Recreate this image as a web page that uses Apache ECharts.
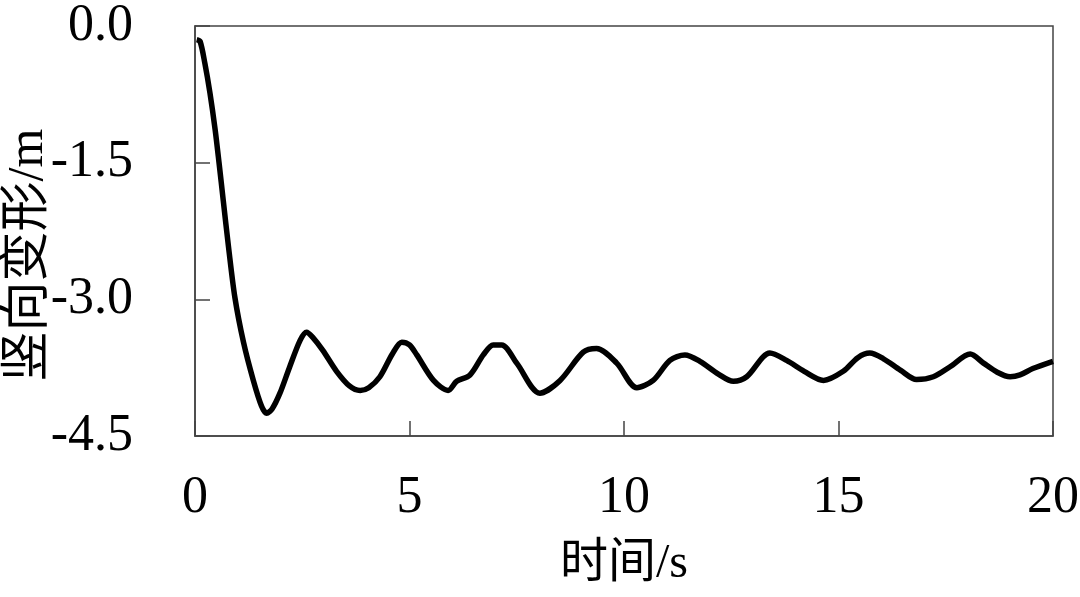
<!DOCTYPE html>
<html>
<head>
<meta charset="utf-8">
<script src="https://cdn.jsdelivr.net/npm/echarts@6/dist/echarts.min.js"></script>
<style>
html,body{margin:0;padding:0;background:#fff;}
#main{width:1080px;height:597px;}
</style>
</head>
<body>
<div id="main"></div>
<script>
const time = [0.04,0.12,0.23,0.35,0.47,0.56,0.66,0.78,0.93,1.13,1.36,1.55,1.67,1.8,1.98,2.2,2.45,2.6,2.75,2.98,3.3,3.6,3.85,4.05,4.31,4.6,4.82,5.0,5.17,5.56,5.9,6.1,6.41,6.72,6.95,7.15,7.5,8.04,8.51,9.05,9.36,9.83,10.3,10.68,11.07,11.42,11.77,12.2,12.55,12.86,13.4,13.79,14.2,14.65,15.11,15.45,15.73,16.04,16.45,16.82,17.21,17.6,18.07,18.38,18.7,19.0,19.23,19.53,20.0];
const deform = [-0.15,-0.17,-0.41,-0.74,-1.14,-1.5,-1.92,-2.42,-2.98,-3.47,-3.89,-4.17,-4.25,-4.2,-4.03,-3.75,-3.45,-3.36,-3.42,-3.56,-3.79,-3.95,-4.0,-3.97,-3.85,-3.6,-3.47,-3.5,-3.61,-3.89,-4.0,-3.9,-3.83,-3.61,-3.5,-3.5,-3.7,-4.03,-3.89,-3.58,-3.54,-3.7,-3.97,-3.89,-3.67,-3.61,-3.68,-3.82,-3.9,-3.85,-3.59,-3.67,-3.79,-3.89,-3.79,-3.64,-3.59,-3.65,-3.78,-3.88,-3.85,-3.74,-3.6,-3.7,-3.8,-3.85,-3.83,-3.76,-3.68];
const xTicks = [0,5,10,15,20];
const yTicks = ['0.0','-1.5','-3.0','-4.5'];
const xName = '时间/s';
const yName = '竖向变形/m';

const chart = echarts.init(document.getElementById('main'));
const serif = '"Liberation Serif", "Noto Sans CJK SC", serif';
chart.setOption({
  animation: false,
  backgroundColor: '#fff',
  grid: {left: 195, right: 27, top: 26, bottom: 161, show: true, borderColor: '#444', borderWidth: 1.5,
    containLabel: false, outerBoundsMode: 'none'},
  xAxis: {
    type: 'value', min: 0, max: 20, interval: 5,
    name: xName, nameLocation: 'middle', nameGap: 104, nameMoveOverlap: false,
    nameTextStyle: {fontFamily: serif, fontSize: 48, color: '#000'},
    axisLine: {show: true, onZero: false, lineStyle: {color: '#444', width: 1.5}},
    axisTick: {show: true, inside: true, length: 15, lineStyle: {color: '#444', width: 1.5}},
    axisLabel: {fontFamily: serif, fontSize: 52, lineHeight: 52, color: '#000', margin: 36,
      formatter: v => xTicks.includes(v) ? String(v) : ''},
    splitLine: {show: false}
  },
  yAxis: {
    type: 'value', min: -4.5, max: 0, interval: 1.5,
    name: yName, nameLocation: 'middle', nameGap: 141, nameRotate: 90, nameMoveOverlap: false,
    nameTextStyle: {fontFamily: serif, fontSize: 50, color: '#000', padding: [0, 48, 0, 0]},
    axisLine: {show: true, onZero: false, lineStyle: {color: '#444', width: 1.5}},
    axisTick: {show: true, inside: true, length: 15, lineStyle: {color: '#444', width: 1.5}},
    axisLabel: {fontFamily: serif, fontSize: 52, lineHeight: 52, color: '#000', margin: 62,
      formatter: v => yTicks[Math.round(-v / 1.5)]},
    splitLine: {show: false}
  },
  series: [{
    type: 'line',
    data: time.map((t, i) => [t, deform[i]]),
    smooth: 0.3,
    showSymbol: false,
    lineStyle: {color: '#000', width: 5.5},
    clip: false
  }]
});
</script>
</body>
</html>
